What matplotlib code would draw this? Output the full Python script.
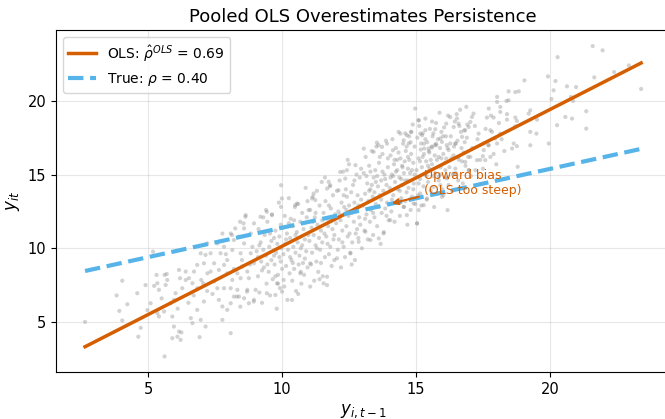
import numpy as np
import matplotlib.pyplot as plt

# Pooled OLS vs true persistence -- scatter of (y_{i,t-1}, y_it)
# points, grouped by x band

pts_low = [
    (2.64, 5.0), (3.82, 6.8), (4.03, 7.8), (3.92, 5.75), (4.22, 6.2), (4.03, 5.1),
    (4.72, 4.6), (4.63, 4.0), (4.59, 6.95), (4.9, 7.5), (5.18, 9.77), (5.61, 2.66),
    (4.97, 5.8), (5.09, 6.27), (5.31, 8.19), (5.34, 7.63), (5.40, 7.18), (5.61, 8.19),
    (5.69, 8.26), (5.71, 7.85), (5.65, 7.51), (5.34, 5.6), (5.40, 5.37), (5.59, 5.71),
    (5.9, 5.37), (5.96, 4.69), (5.9, 3.9), (6.15, 4.35), (6.21, 3.79), (6.09, 4.0),
    (6.24, 4.29), (5.84, 6.27), (5.96, 6.5), (6.02, 6.95), (6.15, 8.53), (6.19, 7.97),
    (6.27, 7.29), (6.4, 7.85), (6.52, 7.97), (6.65, 7.63), (6.65, 4.92), (6.59, 5.26),
    (6.96, 5.14), (6.92, 3.97), (6.83, 5.82), (7.08, 6.39), (7.14, 4.69), (6.83, 7.29),
    (6.98, 7.85), (7.05, 7.63), (7.21, 8.3), (7.33, 8.42), (7.46, 7.74), (7.58, 7.29),
    (7.64, 6.5), (7.77, 6.05), (7.83, 7.29), (7.77, 5.14), (8.08, 4.24), (7.95, 5.82),
    (8.08, 6.27), (8.2, 6.72), (8.08, 7.29), (8.33, 7.18), (8.14, 7.85), (7.95, 8.3),
    (7.83, 8.87), (7.64, 8.53), (8.33, 8.3), (8.45, 7.97), (8.51, 8.76), (8.7, 8.42),
    (8.76, 7.97), (8.7, 7.18), (8.76, 6.27), (8.58, 6.61), (8.95, 6.5), (9.01, 7.18),
    (8.39, 6.72), (8.58, 10.33), (8.45, 9.66), (8.14, 9.88), (8.2, 10.56), (8.39, 10.79),
    (8.58, 11.35), (8.64, 12.25), (8.43, 11.8), (8.08, 11.0), (7.77, 11.0), (7.83, 10.1),
    (7.7, 9.66), (7.95, 9.2), (7.46, 8.98), (7.33, 9.66), (7.08, 8.98), (7.14, 9.55),
    (6.83, 8.87), (6.71, 8.42), (6.4, 8.42), (6.96, 9.66), (7.21, 10.33), (7.58, 10.33),
    (5.22, 7.45), (8.83, 9.66), (8.89, 10.1), (8.95, 8.98), (8.83, 11.0), (8.95, 11.69),
    (8.94, 6.38), (8.44, 6.04), (8.69, 7.06), (8.31, 6.72), (8.63, 12.14), (8.56, 11.69),
    (8.25, 11.35), (8.13, 10.9), (7.4, 6.9), (6.5, 6.3), (7.9, 9.6), (8.5, 9.2),
    (6.1, 5.9), (7.2, 7.1), (8.8, 8.9), (8.2, 8.6), (5.5, 6.6), (6.7, 6.8),
]

pts_mid = [
    (9.05, 9.8), (9.1, 8.1), (9.12, 11.3), (9.15, 7.0), (9.2, 10.4), (9.22, 9.1),
    (9.25, 6.3), (9.3, 12.1), (9.32, 8.7), (9.35, 10.9), (9.4, 9.5), (9.42, 7.6),
    (9.45, 11.8), (9.5, 8.4), (9.52, 10.1), (9.55, 6.8), (9.6, 9.2), (9.62, 12.3),
    (9.65, 7.9), (9.7, 10.7), (9.72, 8.9), (9.75, 11.2), (9.78, 9.7), (9.8, 5.9),
    (9.82, 10.3), (9.85, 8.2), (9.88, 13.1), (9.9, 9.4), (9.92, 7.3), (9.95, 11.6),
    (9.97, 10.0), (10.0, 8.6), (9.6, 10.5), (9.3, 9.9), (9.45, 8.9), (9.7, 9.5),
    (9.9, 10.8), (9.15, 10.2), (9.55, 11.0), (9.85, 7.6), (9.25, 8.5), (9.4, 12.6),
    (9.75, 8.1), (9.95, 9.1), (9.1, 9.4),
    (10.02, 11.4), (10.05, 9.6), (10.08, 7.4), (10.1, 12.2), (10.12, 10.3), (10.15, 8.8),
    (10.18, 11.0), (10.2, 6.5), (10.22, 9.9), (10.25, 13.4), (10.28, 8.3), (10.3, 10.7),
    (10.32, 12.0), (10.35, 9.2), (10.38, 7.8), (10.4, 11.5), (10.42, 10.1), (10.45, 8.6),
    (10.48, 12.8), (10.5, 9.7), (10.52, 7.1), (10.55, 11.1), (10.58, 10.4), (10.6, 13.0),
    (10.62, 8.9), (10.65, 9.5), (10.68, 11.8), (10.7, 10.0), (10.72, 7.6), (10.75, 12.4),
    (10.78, 9.0), (10.8, 11.3), (10.82, 8.2), (10.85, 10.6), (10.88, 14.1), (10.9, 9.8),
    (10.92, 12.1), (10.95, 8.7), (10.98, 10.9), (10.3, 9.4), (10.5, 10.9), (10.7, 8.4),
    (10.15, 10.6), (10.45, 11.9), (10.85, 9.3), (10.6, 6.9), (10.25, 11.7), (10.95, 13.2),
    (10.4, 9.0), (10.75, 10.2),
    (11.02, 10.5), (11.05, 12.6), (11.08, 8.9), (11.1, 11.4), (11.12, 9.7), (11.15, 13.5),
    (11.18, 10.9), (11.2, 7.8), (11.22, 12.1), (11.25, 10.2), (11.28, 9.1), (11.3, 13.9),
    (11.32, 11.6), (11.35, 8.4), (11.38, 10.7), (11.4, 12.9), (11.42, 9.9), (11.45, 11.2),
    (11.48, 14.5), (11.5, 10.4), (11.52, 8.1), (11.55, 12.4), (11.58, 11.0), (11.6, 9.4),
    (11.62, 13.2), (11.65, 10.8), (11.68, 7.5), (11.7, 12.0), (11.72, 11.5), (11.75, 9.6),
    (11.78, 14.2), (11.8, 10.1), (11.82, 12.7), (11.85, 8.8), (11.88, 11.3), (11.9, 13.6),
    (11.92, 10.6), (11.95, 9.2), (11.98, 12.3), (11.3, 10.0), (11.5, 11.9), (11.7, 10.3),
    (11.15, 11.8), (11.45, 9.0), (11.85, 11.9), (11.6, 14.8), (11.25, 12.4), (11.95, 10.9),
    (11.4, 7.9), (11.75, 12.9),
    (12.02, 11.7), (12.05, 13.9), (12.08, 9.9), (12.1, 12.5), (12.12, 10.6), (12.15, 14.6),
    (12.18, 11.9), (12.2, 8.7), (12.22, 13.1), (12.25, 11.2), (12.28, 15.2), (12.3, 10.1),
    (12.32, 12.8), (12.35, 9.4), (12.38, 14.0), (12.4, 11.5), (12.42, 13.5), (12.45, 10.8),
    (12.48, 12.2), (12.5, 15.7), (12.52, 11.0), (12.55, 9.7), (12.58, 13.8), (12.6, 12.4),
    (12.62, 10.4), (12.65, 14.3), (12.68, 11.8), (12.7, 13.1), (12.72, 9.2), (12.75, 12.7),
    (12.78, 15.0), (12.8, 11.3), (12.82, 13.6), (12.85, 10.7), (12.88, 12.1), (12.9, 14.8),
    (12.92, 11.6), (12.95, 13.3), (12.98, 10.0), (12.3, 13.6), (12.5, 12.9), (12.7, 14.6),
    (12.15, 12.3), (12.45, 16.0), (12.85, 12.9), (12.6, 8.9), (12.25, 10.4), (12.95, 15.4),
    (12.4, 12.6), (12.75, 11.0),
    (13.02, 12.9), (13.05, 15.1), (13.08, 11.2), (13.1, 13.7), (13.12, 16.2), (13.15, 12.3),
    (13.18, 14.4), (13.2, 10.6), (13.22, 13.2), (13.25, 15.6), (13.28, 11.8), (13.3, 14.0),
    (13.32, 12.6), (13.35, 16.6), (13.38, 13.5), (13.4, 10.9), (13.42, 14.8), (13.45, 12.1),
    (13.48, 15.3), (13.5, 13.0), (13.52, 16.9), (13.55, 11.5), (13.58, 14.2), (13.6, 12.8),
    (13.62, 15.8), (13.65, 13.6), (13.68, 10.3), (13.7, 14.6), (13.72, 12.4), (13.75, 16.4),
    (13.78, 13.9), (13.8, 11.1), (13.82, 15.0), (13.85, 12.7), (13.88, 17.3), (13.9, 14.3),
    (13.92, 13.1), (13.95, 15.5), (13.98, 11.9), (13.3, 15.2), (13.5, 14.5), (13.7, 13.3),
    (13.15, 14.9), (13.45, 13.8), (13.85, 14.7), (13.6, 17.0), (13.25, 13.9), (13.95, 16.1),
    (13.4, 12.4), (13.75, 15.2), (13.55, 14.9), (13.1, 12.0), (13.9, 12.2), (13.65, 16.2),
    (13.35, 14.3),
    (10.37, 6.49), (11.05, 7.4), (11.55, 7.62), (11.68, 8.07), (12.05, 9.32), (12.55, 9.65),
    (12.86, 10.44), (13.3, 10.56), (13.61, 10.67), (13.79, 11.01), (13.11, 11.12),
    (10.68, 8.3), (11.05, 8.98), (9.81, 7.62), (10.06, 7.85), (9.43, 6.95), (9.75, 6.83),
    (10.0, 7.06), (13.54, 17.17), (13.92, 17.1), (13.73, 16.88), (13.05, 16.76),
    (13.42, 16.54), (12.74, 15.64), (12.42, 15.3), (12.17, 15.18), (12.36, 14.73),
    (11.74, 14.51), (12.11, 13.94), (11.8, 14.28), (11.68, 14.05), (11.18, 13.72),
    (11.24, 13.27), (11.12, 13.38), (10.99, 12.59), (10.56, 13.04), (10.49, 12.93),
    (9.96, 14.28), (9.99, 13.38), (9.96, 12.81), (9.62, 12.25), (9.43, 12.47), (9.19, 12.14),
]

pts_high = [
    (14.02, 14.1), (14.05, 16.3), (14.08, 12.5), (14.1, 15.0), (14.12, 17.4), (14.15, 13.6),
    (14.18, 15.7), (14.2, 11.8), (14.22, 14.5), (14.25, 16.8), (14.28, 13.1), (14.3, 15.3),
    (14.32, 14.0), (14.35, 17.9), (14.38, 14.8), (14.4, 12.2), (14.42, 16.1), (14.45, 13.4),
    (14.48, 15.6), (14.5, 14.3), (14.52, 17.1), (14.55, 12.8), (14.58, 15.9), (14.6, 14.6),
    (14.62, 16.6), (14.65, 13.8), (14.68, 11.6), (14.7, 15.4), (14.72, 14.1), (14.75, 17.6),
    (14.78, 15.1), (14.8, 12.6), (14.82, 16.4), (14.85, 13.5), (14.88, 18.4), (14.9, 15.8),
    (14.92, 14.4), (14.95, 16.9), (14.98, 13.0), (14.3, 16.0), (14.5, 15.5), (14.7, 16.2),
    (14.15, 14.9), (14.45, 14.7), (14.85, 15.3), (14.6, 17.8), (14.25, 15.2), (14.95, 15.0),
    (14.4, 13.9), (14.75, 16.0), (14.55, 15.1), (14.1, 13.3), (14.9, 14.0), (14.65, 16.9),
    (14.35, 16.5), (14.8, 17.2), (14.2, 16.0), (14.6, 13.2), (14.05, 14.8), (14.7, 14.6),
    (15.02, 15.3), (15.05, 17.5), (15.08, 13.6), (15.1, 16.1), (15.12, 18.3), (15.15, 14.7),
    (15.18, 16.7), (15.2, 12.9), (15.22, 15.5), (15.25, 17.8), (15.28, 14.2), (15.3, 16.4),
    (15.32, 15.0), (15.35, 18.8), (15.38, 15.9), (15.4, 13.3), (15.42, 17.2), (15.45, 14.5),
    (15.48, 16.6), (15.5, 15.4), (15.52, 18.1), (15.55, 13.9), (15.58, 16.9), (15.6, 15.7),
    (15.62, 17.6), (15.65, 14.9), (15.68, 12.8), (15.7, 16.3), (15.72, 15.1), (15.75, 18.5),
    (15.78, 16.0), (15.8, 13.7), (15.82, 17.4), (15.85, 14.6), (15.88, 19.2), (15.9, 16.8),
    (15.92, 15.5), (15.95, 17.9), (15.98, 14.0), (15.3, 17.1), (15.5, 16.5), (15.7, 17.0),
    (15.15, 15.9), (15.45, 15.6), (15.85, 16.2), (15.6, 18.6), (15.25, 16.2), (15.95, 16.1),
    (15.4, 14.9), (15.75, 17.1), (15.55, 16.0), (15.1, 14.4), (15.9, 15.0), (15.65, 17.8),
    (15.35, 17.4),
    (16.02, 16.4), (16.05, 18.2), (16.1, 14.8), (16.15, 17.0), (16.2, 19.0), (16.25, 15.5),
    (16.3, 17.6), (16.35, 13.9), (16.4, 16.3), (16.45, 18.6), (16.5, 15.1), (16.55, 17.3),
    (16.6, 16.0), (16.65, 19.4), (16.7, 16.8), (16.75, 14.4), (16.8, 18.0), (16.85, 15.6),
    (16.9, 17.5), (16.95, 16.2), (16.08, 15.8), (16.18, 16.8), (16.28, 18.9), (16.38, 15.0),
    (16.48, 17.1), (16.58, 14.6), (16.68, 17.9), (16.78, 16.5), (16.88, 19.6), (16.98, 15.3),
    (16.12, 17.6), (16.42, 16.9), (16.72, 15.9), (16.22, 14.3), (16.52, 19.1), (16.82, 17.2),
    (16.32, 16.1), (16.62, 18.3), (16.92, 18.4), (16.02, 13.6),
    (17.1, 16.8), (17.3, 17.4), (17.5, 15.4), (17.7, 17.0), (17.9, 16.4), (18.1, 18.5),
    (18.3, 16.6), (17.2, 18.3), (17.6, 18.1), (18.0, 15.7), (17.4, 16.0), (17.8, 19.0),
    (18.2, 17.4), (18.4, 19.1), (17.05, 14.9),
    (15.1, 18.68), (14.83, 17.89), (14.42, 17.78), (15.23, 17.67), (14.14, 16.65),
    (14.04, 11.91), (15.04, 11.69),
]

pts_top = [
    (21.6, 23.72), (21.97, 23.43), (20.29, 22.97), (22.95, 22.41), (22.4, 21.96),
    (23.41, 20.81), (21.66, 21.6), (20.98, 20.94), (20.64, 20.99), (20.21, 21.35),
    (19.93, 21.66), (20.14, 20.72), (20.06, 20.13), (20.79, 20.27), (20.87, 20.0),
    (21.36, 19.3), (21.36, 18.12), (20.58, 18.91), (20.83, 18.8), (20.27, 18.35),
    (19.96, 17.11), (19.05, 21.39), (18.71, 20.6), (18.84, 20.65), (18.46, 20.65),
    (18.46, 20.04), (18.15, 19.59), (18.38, 20.0), (18.03, 20.27), (18.03, 19.93),
    (17.72, 19.48), (17.9, 18.87), (17.65, 18.87), (18.15, 19.25), (18.4, 18.73),
    (18.71, 18.87), (18.77, 18.64), (18.71, 18.28), (19.27, 19.36), (19.21, 19.14),
    (19.52, 18.73), (19.27, 17.9), (19.5, 17.78), (19.27, 16.99), (18.65, 17.11),
    (18.77, 16.93), (18.59, 16.77), (18.8, 15.53), (18.15, 17.78), (17.84, 17.9),
    (17.78, 18.01), (17.96, 17.45), (18.03, 17.11), (17.72, 16.99), (17.53, 16.66),
    (17.5, 16.25), (17.78, 16.2), (17.59, 15.98), (17.28, 15.98), (17.22, 15.3),
    (16.97, 15.3), (17.34, 17.78), (17.03, 18.57), (17.09, 18.91), (17.15, 19.14),
    (16.97, 18.23), (16.84, 18.01), (16.72, 17.56), (16.53, 18.8), (16.59, 18.46),
    (16.47, 17.11), (16.41, 18.23), (16.13, 18.46), (15.72, 18.08), (15.91, 17.45),
    (16.01, 17.6), (15.97, 17.22), (16.28, 17.11), (16.22, 16.66), (15.76, 16.99),
    (15.6, 16.84), (15.47, 16.77), (15.31, 16.77), (15.19, 17.11), (15.16, 17.78),
    (15.35, 18.01), (14.97, 19.48), (15.1, 18.69), (14.81, 17.9), (14.66, 17.67),
    (14.73, 17.11), (14.54, 17.33), (16.13, 16.09), (16.59, 16.2), (16.84, 15.86),
    (16.47, 15.41), (16.1, 15.3), (16.16, 14.74), (16.41, 15.07), (15.85, 14.85),
    (15.91, 14.28), (15.66, 14.17), (15.97, 13.49), (16.18, 12.59), (15.41, 13.38),
    (15.29, 12.93), (15.1, 12.59), (14.91, 13.04), (15.04, 11.69), (14.66, 12.25),
    (14.54, 12.82), (15.16, 13.72), (17.03, 16.2), (17.53, 17.11),
]

# fitted lines (slope / intercept as drawn)
ols_slope, ols_intercept = 0.927, 0.872
true_slope, true_intercept = 0.399, 7.405
rho_ols_label = 0.69
rho_true_label = 0.40

pts = np.array(pts_low + pts_mid + pts_high + pts_top)
x_prev = pts[:, 0]
y_curr = pts[:, 1]
x_fit = np.linspace(x_prev.min(), x_prev.max(), 100)

fig = plt.figure(figsize=(6.65, 4.19), dpi=100)
ax = fig.add_axes([0.084, 0.112, 0.924, 0.816])

ax.scatter(x_prev, y_curr, s=9, color="gray", alpha=0.35, edgecolors="none")
ax.plot(x_fit, ols_intercept + ols_slope * x_fit, color="#D55E00", lw=2.5,
        label=rf"OLS: $\hat{{\rho}}^{{OLS}}$ = {rho_ols_label:.2f}")
ax.plot(x_fit, true_intercept + true_slope * x_fit, color="#56B4E9", lw=3,
        ls="--", label=rf"True: $\rho$ = {rho_true_label:.2f}")

ax.annotate("Upward bias\n(OLS too steep)", xy=(14.0, 13.0), xytext=(15.3, 14.4),
            color="#D55E00", fontsize=9, va="center",
            arrowprops=dict(arrowstyle="->", color="#D55E00", lw=1.5))

ax.set_xlim(1.55, 24.5)
ax.set_ylim(1.6, 24.8)
ax.set_xticks([5, 10, 15, 20])
ax.set_yticks([5, 10, 15, 20])
ax.tick_params(labelsize=10.5)
ax.set_xlabel(r"$y_{i,t-1}$", fontsize=12)
ax.set_ylabel(r"$y_{it}$", fontsize=12)
ax.set_title("Pooled OLS Overestimates Persistence", fontsize=13)
ax.grid(True, alpha=0.3)
ax.legend(loc="upper left", fontsize=10)

fig.savefig("out.png", dpi=100)
